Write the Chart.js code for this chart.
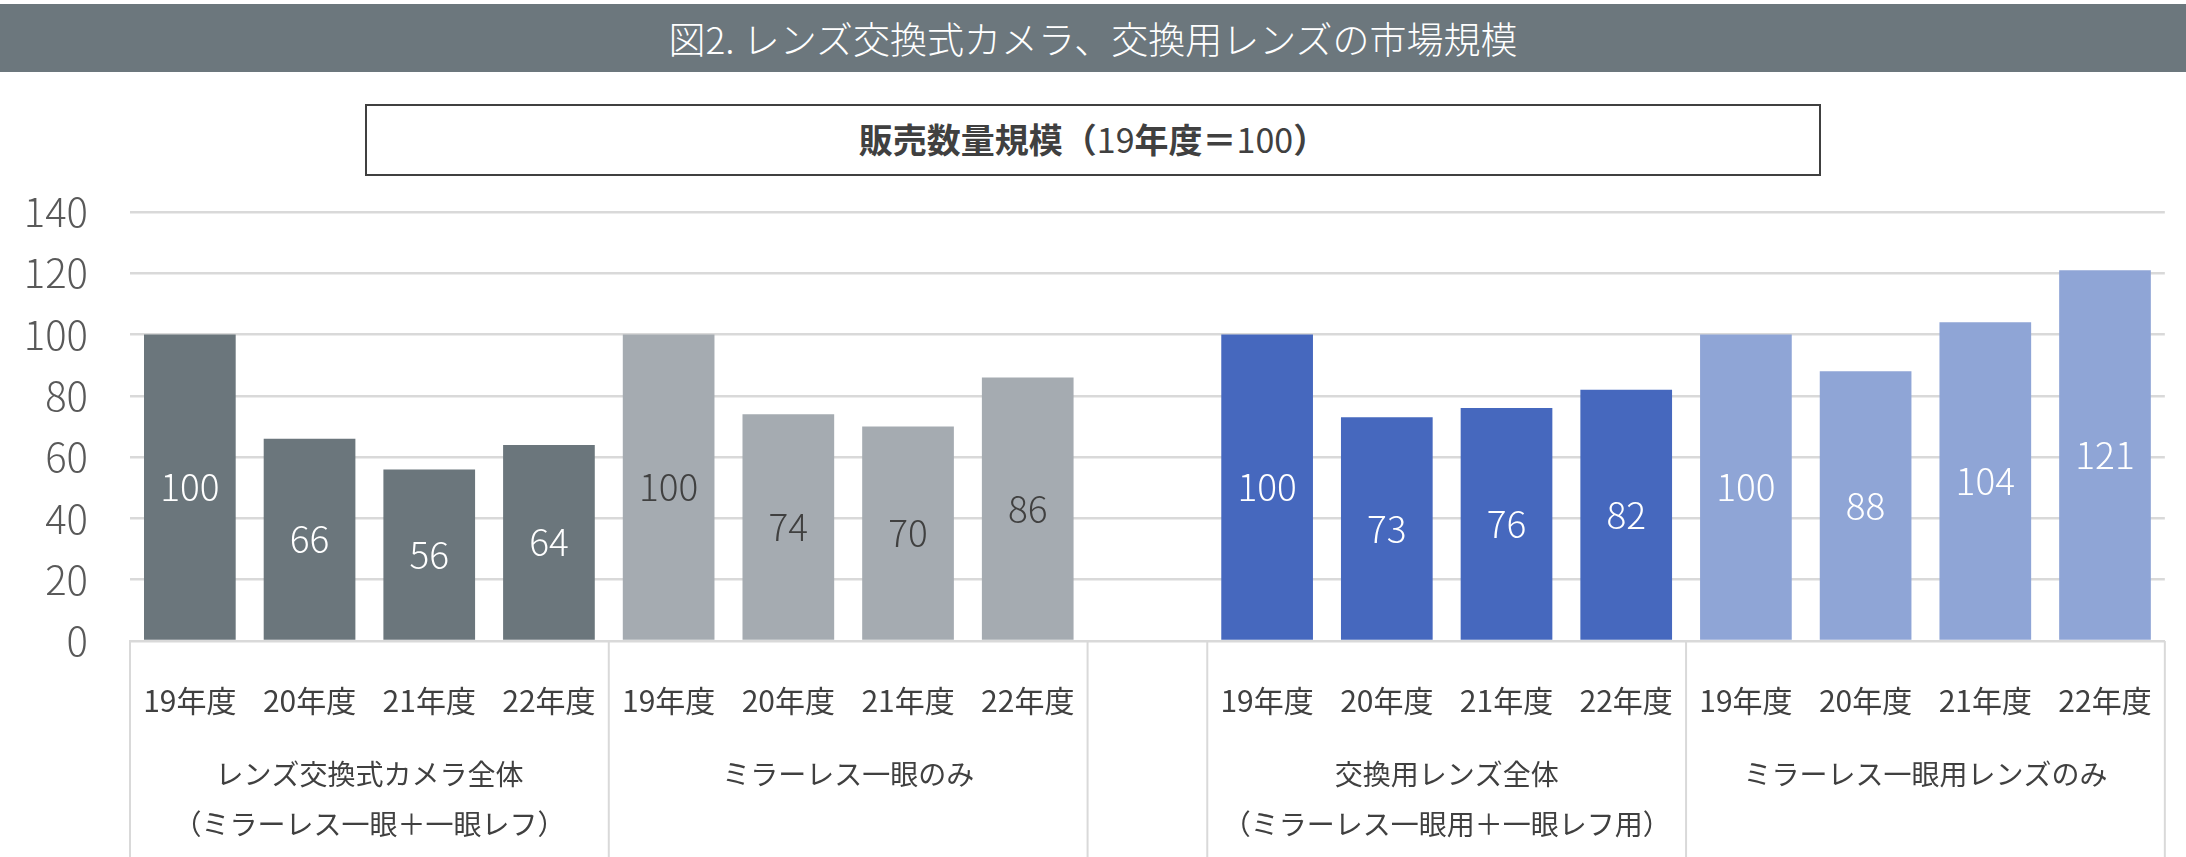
<!DOCTYPE html>
<html lang="ja">
<head>
<meta charset="utf-8">
<title>図2. レンズ交換式カメラ、交換用レンズの市場規模</title>
<script src="https://cdn.jsdelivr.net/npm/chart.js@4.4.1/dist/chart.umd.min.js"></script>
<style>
  html, body { margin: 0; padding: 0; background: #fff; }
  body { width: 2186px; height: 857px; position: relative; overflow: hidden;
         font-family: "Noto Sans CJK JP", "Noto Sans", sans-serif; }
  #chart { position: absolute; left: 0; top: 0; }
  .title-bar {
    position: absolute; left: 0; top: 4px; width: 2186px; height: 68px;
    background: #6c777d; color: #fff; font-size: 37px; font-weight: 300;
    text-align: center; line-height: 68px;
  }
  .sub-box {
    position: absolute; left: 365px; top: 104px; width: 1456px; height: 72px;
    box-sizing: border-box; border: 2px solid #404040; background: #fff;
    color: #404040; font-size: 34px; font-weight: 700; text-align: center; line-height: 66px;
  }
  .sub-box .num { font-weight: 400; }
</style>
</head>
<body>
<canvas id="chart" width="2186" height="857"></canvas>
<div class="title-bar">図2. レンズ交換式カメラ、交換用レンズの市場規模</div>
<div class="sub-box">販売数量規模（<span class="num">19</span>年度＝<span class="num">100</span>）</div>
<script>
// data (19年度 = 100)
const yearLabels = ['19年度', '20年度', '21年度', '22年度'];
const cameraAll = [100, 66, 56, 64];        // レンズ交換式カメラ全体
const mirrorlessBody = [100, 74, 70, 86];   // ミラーレス一眼のみ
const lensAll = [100, 73, 76, 82];          // 交換用レンズ全体
const mirrorlessLens = [100, 88, 104, 121]; // ミラーレス一眼用レンズのみ

const groupNames = [
  ['レンズ交換式カメラ全体', '（ミラーレス一眼＋一眼レフ）'],
  ['ミラーレス一眼のみ'],
  ['交換用レンズ全体', '（ミラーレス一眼用＋一眼レフ用）'],
  ['ミラーレス一眼用レンズのみ']
];
const groupColors = ['#6b767c', '#a5abb1', '#4668be', '#8fa5d6'];
const labelColors = ['#ffffff', '#404040', '#ffffff', '#ffffff'];
const yMax = 140;
const yStep = 20;

// build the 17 slots: two groups, one empty slot, two groups
const groups = [cameraAll, mirrorlessBody, null, lensAll, mirrorlessLens];
const labels = [];
const values = [];
const barColors = [];
const barLabelColors = [];
const groupRanges = []; // [first, last] index of each group
const separators = [];  // slot boundaries that get a divider line
let gi = 0;
groups.forEach(g => {
  if (g === null) {
    labels.push('');
    values.push(null);
    barColors.push('transparent');
    barLabelColors.push('transparent');
    return;
  }
  const start = labels.length;
  g.forEach((v, i) => {
    labels.push(yearLabels[i]);
    values.push(v);
    barColors.push(groupColors[gi]);
    barLabelColors.push(labelColors[gi]);
  });
  groupRanges.push([start, labels.length - 1]);
  if (!separators.includes(start)) separators.push(start);
  separators.push(labels.length);
  gi++;
});

const textColor = '#404040';
const gridColor = '#d9d9d9';
const font = '"Noto Sans CJK JP", "Noto Sans", sans-serif';

// value labels in the middle of each bar
const barValues = {
  id: 'barValues',
  afterDatasetsDraw(chart) {
    const ctx = chart.ctx;
    const meta = chart.getDatasetMeta(0);
    ctx.save();
    ctx.font = '300 37px ' + font;
    ctx.textAlign = 'center';
    ctx.textBaseline = 'middle';
    meta.data.forEach((bar, i) => {
      if (values[i] == null) return;
      ctx.fillStyle = barLabelColors[i];
      ctx.fillText(String(values[i]), bar.x, (bar.y + bar.base) / 2);
    });
    ctx.restore();
  }
};

// group names and vertical dividers under the axis
const groupAxis = {
  id: 'groupAxis',
  afterDraw(chart) {
    const ctx = chart.ctx;
    const x = chart.scales.x;
    const half = (x.getPixelForValue(1) - x.getPixelForValue(0)) / 2;
    const bottom = chart.height;
    ctx.save();
    ctx.strokeStyle = gridColor;
    ctx.lineWidth = 2;
    separators.forEach(s => {
      const px = s < labels.length ? x.getPixelForValue(s) - half : x.getPixelForValue(labels.length - 1) + half;
      ctx.beginPath();
      ctx.moveTo(px, x.top);
      ctx.lineTo(px, bottom);
      ctx.stroke();
    });
    ctx.fillStyle = textColor;
    ctx.font = '28px ' + font;
    ctx.textAlign = 'center';
    ctx.textBaseline = 'middle';
    groupRanges.forEach((r, i) => {
      const cx = (x.getPixelForValue(r[0]) + x.getPixelForValue(r[1])) / 2;
      groupNames[i].forEach((line, j) => {
        ctx.fillText(line, cx, x.top + 133 + j * 50);
      });
    });
    ctx.restore();
  }
};

new Chart(document.getElementById('chart'), {
  type: 'bar',
  data: {
    labels: labels,
    datasets: [{
      data: values,
      backgroundColor: barColors,
      barPercentage: 0.766,
      categoryPercentage: 1.0
    }]
  },
  options: {
    responsive: false,
    animation: false,
    devicePixelRatio: 1,
    layout: { padding: { top: 212, left: 0, right: 12, bottom: 0 } },
    plugins: {
      legend: { display: false },
      title: { display: false },
      tooltip: { enabled: false }
    },
    scales: {
      x: {
        grid: { display: false },
        border: { display: true, color: gridColor, width: 2 },
        ticks: {
          color: textColor,
          font: { family: font, size: 30 },
          padding: 34,
          maxRotation: 0,
          autoSkip: false
        },
        afterFit(scale) { scale.height = 216; }
      },
      y: {
        min: 0,
        max: yMax,
        grid: { color: gridColor, lineWidth: 2.5, drawTicks: false },
        border: { display: false },
        ticks: {
          stepSize: yStep,
          color: '#595959',
          font: { family: font, size: 40, weight: 300 },
          padding: 42
        },
        afterFit(scale) { scale.width = 130; }
      }
    }
  },
  plugins: [barValues, groupAxis]
});
</script>
</body>
</html>
